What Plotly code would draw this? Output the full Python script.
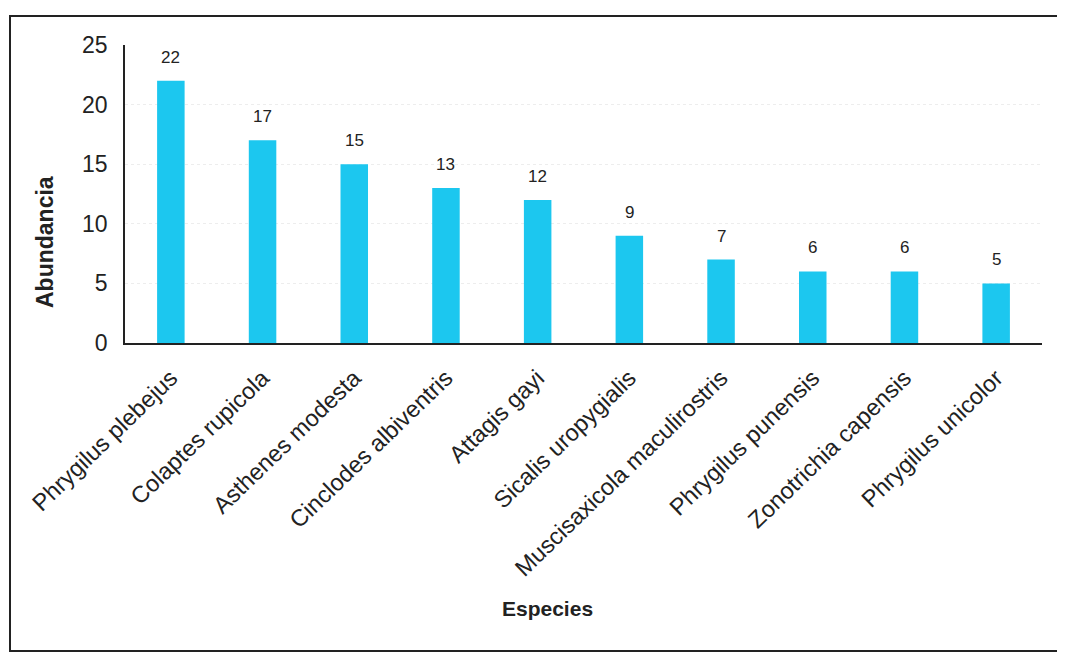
import plotly.graph_objects as go

species = ["Phrygilus plebejus", "Colaptes rupicola", "Asthenes modesta",
           "Cinclodes albiventris", "Attagis gayi", "Sicalis uropygialis",
           "Muscisaxicola maculirostris", "Phrygilus punensis",
           "Zonotrichia capensis", "Phrygilus unicolor"]
abundance = [22, 17, 15, 13, 12, 9, 7, 6, 6, 5]
y_ticks = [0, 5, 10, 15, 20, 25]

FONT = "Liberation Sans, Arial, sans-serif"
INK = "#222222"

# page body has an 8px margin; plot area in page coords: x 125..1042, y 45..343
OFF = 8
PX0, PX1, PY0, PY1 = 125, 1042, 45, 343
W, H = 1065 - OFF, 654 - OFF
PW, PH = PX1 - PX0, PY1 - PY0


def px(x):
    return (x - PX0) / PW


def py(y):
    return (PY1 - y) / PH


fig = go.Figure(go.Bar(
    x=species, y=abundance, width=0.3,
    marker=dict(color="#1CC7EF", line=dict(width=0)),
    hoverinfo="x+y",
))

for s, v in zip(species, abundance):
    fig.add_annotation(x=s, y=v, text=str(v), showarrow=False,
                       yanchor="bottom", yshift=12,
                       font=dict(size=17, family=FONT, color=INK))

fig.update_layout(
    width=W, height=H,
    margin=dict(l=PX0 - OFF, r=W - (PX1 - OFF), t=PY0 - OFF, b=H - (PY1 - OFF)),
    paper_bgcolor="white", plot_bgcolor="white",
    font=dict(family=FONT, color=INK),
    showlegend=False,
)
fig.update_xaxes(
    showline=True, linecolor=INK, linewidth=2,
    tickangle=-44, tickfont=dict(size=23.5, family=FONT, color=INK),
    ticks="", ticklabelstandoff=10, showgrid=False,
)
fig.update_yaxes(
    range=[0, 25], tickvals=y_ticks,
    showline=True, linecolor=INK, linewidth=1.5,
    tickfont=dict(size=23, family=FONT, color=INK),
    ticks="", ticklabelstandoff=11,
    showgrid=True, gridcolor="#EDEDED", gridwidth=1, griddash="dot",
    zeroline=False,
)

fig.add_annotation(text="<b>Especies</b>", xref="paper", yref="paper",
                   x=px(547), y=py(608), xanchor="center", yanchor="middle",
                   showarrow=False, font=dict(size=21, family=FONT, color=INK))
fig.add_annotation(text="<b>Abundancia</b>", xref="paper", yref="paper",
                   x=px(45), y=py(242), xanchor="center", yanchor="middle",
                   textangle=-90,
                   showarrow=False, font=dict(size=23, family=FONT, color=INK))

# outer frame of the chart (right edge lies beyond the picture)
fig.add_shape(type="rect", xref="paper", yref="paper",
              x0=px(10), x1=px(1090), y0=py(651), y1=py(16),
              line=dict(color=INK, width=2), layer="below")

fig.write_html("out.html")
